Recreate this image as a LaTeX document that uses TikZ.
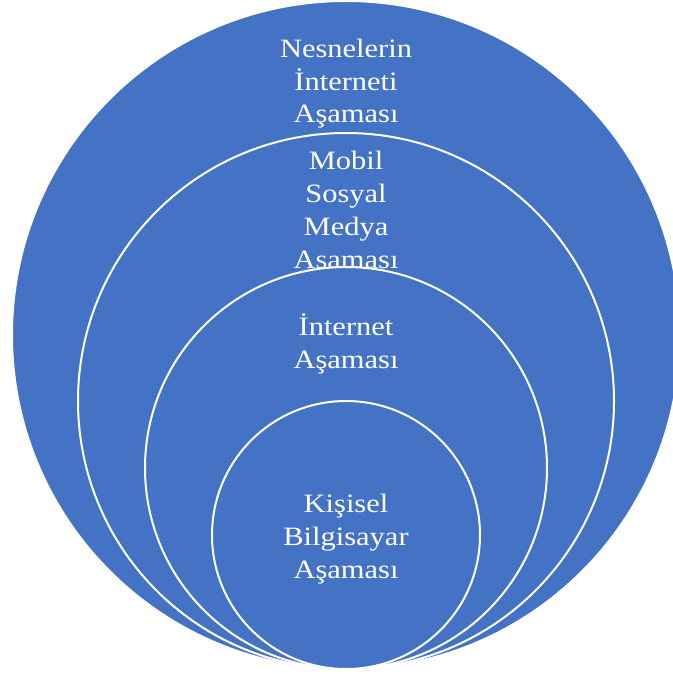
\documentclass[tikz,border=0pt]{standalone}
\usepackage{fontspec}
\setmainfont[FakeStretch=1.15]{Liberation Serif}
\definecolor{ringblue}{HTML}{4472C4}
\tikzset{
  ring/.style={circle, fill=ringblue, draw=white, line width=2pt, inner sep=0pt, outer sep=0pt},
  ringlabel/.style={text=white, align=center, inner sep=0pt, anchor=base,
    font=\fontsize{26.5}{33}\selectfont}
}
\begin{document}
\begin{tikzpicture}[x=1pt,y=-1pt]
\fill[white] (0,0) rectangle (672,674);
\useasboundingbox (0,0) rectangle (672,674);
\node[ring, minimum size=668pt] (c1) at (346,335) {};
\node[ringlabel] (t1) at (346,123) {Nesnelerin\\İnterneti\\Aşaması};
\node[ring, minimum size=536pt] (c2) at (346,401) {};
\node[ringlabel] (t2) at (346,268) {Mobil\\Sosyal\\Medya\\Aşaması};
\node[ring, minimum size=402pt] (c3) at (346,468) {};
\node[ringlabel] (t3) at (346,368) {İnternet\\Aşaması};
\node[ring, minimum size=268pt] (c4) at (346,535) {};
\node[ringlabel] (t4) at (346,578) {Kişisel\\Bilgisayar\\Aşaması};
\end{tikzpicture}
\end{document}
